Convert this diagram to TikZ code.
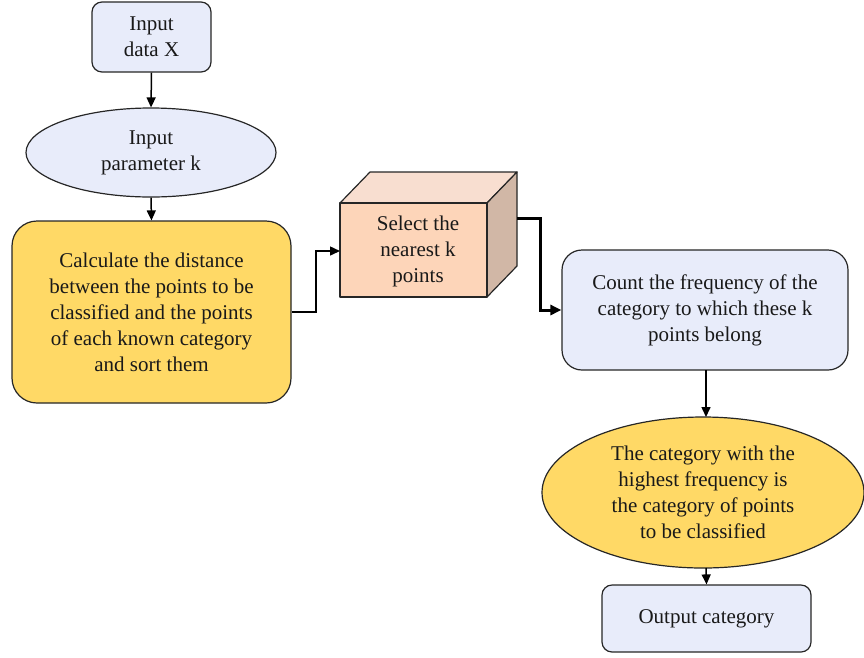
\documentclass[tikz,border=0pt]{standalone}
\usepackage{fontspec}
\setmainfont{Liberation Serif}
\usetikzlibrary{arrows.meta,shapes.geometric}
\definecolor{lblue}{HTML}{E8ECFA}
\definecolor{lyellow}{HTML}{FFD966}
\definecolor{cfront}{HTML}{FDD5B9}
\definecolor{ctop}{HTML}{F8DED0}
\definecolor{cside}{HTML}{D1B7A6}
\begin{document}
\begin{tikzpicture}[x=1pt,y=-1pt,
  txt/.style={font=\fontsize{21}{26}\selectfont, align=center, text=black!90},
  bluebox/.style={txt, draw=black!85, line width=1.2pt, fill=lblue, rounded corners=#1},
  bluebox/.default=10pt,
  arr/.style={-{Triangle[length=10pt,width=9pt]}, line width=1.5pt, black},
  thickarr/.style={-{Triangle[length=11pt,width=10pt]}, line width=3pt, black}
]
\useasboundingbox (0,0) rectangle (864,657);
\node[bluebox, minimum width=119pt, minimum height=70pt] (in) at (151.5,37) {Input\\data X};
\node[txt, ellipse, draw=black!85, line width=1.2pt, fill=lblue, minimum width=250pt, minimum height=89pt, inner sep=0pt] (par) at (151,152.5) {Input\\parameter k};
\node[txt, draw=black!85, line width=1.2pt, fill=lyellow, rounded corners=25pt, minimum width=279pt, minimum height=182pt] (calc) at (151.5,312) {Calculate the distance\\between the points to be\\classified and the points\\of each known category\\and sort them};
% cube
\coordinate (fa) at (340,203);
\coordinate (fb) at (487,203);
\coordinate (fc) at (487,297);
\coordinate (fd) at (340,297);
\coordinate (ba) at (370,172);
\coordinate (bb) at (517,172);
\coordinate (bc) at (517,266);
\filldraw[fill=ctop, draw=black!85, line width=1.2pt, line join=round] (fa) -- (ba) -- (bb) -- (fb) -- cycle;
\filldraw[fill=cside, draw=black!85, line width=1.2pt, line join=round] (fb) -- (bb) -- (bc) -- (fc) -- cycle;
\filldraw[fill=cfront, draw=black!85, line width=1.2pt, line join=round] (fa) -- (fb) -- (fc) -- (fd) -- cycle;
\node[txt, minimum width=147pt, minimum height=94pt, inner sep=0pt] (sel) at (418,251) {Select the\\nearest k\\points};
\coordinate (selin) at (340,251);
\coordinate (selout) at (517,218);
\node[bluebox=20pt, minimum width=286pt, minimum height=120pt] (cnt) at (705,310) {Count the frequency of the\\category to which these k\\points belong};
\node[txt, ellipse, draw=black!85, line width=1.2pt, fill=lyellow, minimum width=322pt, minimum height=151pt, inner sep=0pt] (cat) at (703,492.5) {The category with the\\highest frequency is\\the category of points\\to be classified};
\node[bluebox, minimum width=209pt, minimum height=67pt] (out) at (706.5,618.5) {Output category};
% connectors
\draw[arr] (in.south) -- (par.north);
\draw[arr] (par.south) -- (calc.north);
\draw[arr] (calc.east) -- (316,312) |- (selin);
\draw[thickarr] (selout) -- (540,218) |- (cnt.west);
\draw[arr] (706,370) -- (706,417);
\draw[arr] (706,568) -- (out.north);
\end{tikzpicture}
\end{document}
